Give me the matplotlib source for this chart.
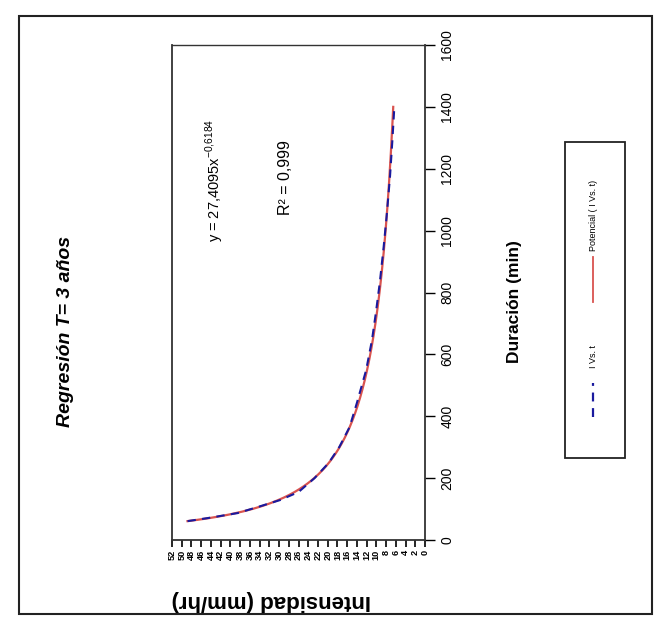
import numpy as np
import matplotlib.pyplot as plt
from matplotlib.patches import Rectangle
from matplotlib.lines import Line2D

duracion = np.array([61, 71, 87, 107, 129, 155, 200, 249, 301, 365, 443, 549,
                     646, 734, 831, 947, 1044, 1173, 1293, 1400])
intensidad = np.array([48.8, 44.6, 38.5, 34.3, 29.8, 26.0, 22.7, 19.8, 17.6, 15.5,
                       14.0, 12.1, 10.9, 10.1, 9.3, 8.5, 7.9, 7.2, 6.7, 6.3])

x_ticks = np.arange(52, -1, -2)        # intensity ticks (bottom, inverted)
y_ticks = np.arange(0, 1601, 200)      # duration ticks (right side)

titulo = "Regresión T= 3 años"
ecuacion = r"y = 27,4095x$^{\mathregular{-0{,}6184}}$"
r2 = "R² = 0,999"

W, H = 669, 631
def px(x, y):
    # pixel coords (from top-left) -> figure fraction
    return x / W, 1 - y / H

plt.rcParams['font.family'] = ['Liberation Sans', 'DejaVu Sans']

fig = plt.figure(figsize=(W / 100, H / 100), dpi=100)

# outer frame
fig.patches.append(Rectangle(px(19, 614), 633 / W, 598 / H, transform=fig.transFigure,
                             fill=False, edgecolor='#222222', lw=1.5))

# plot area: horizontal = intensity (inverted), vertical = duration
ax = fig.add_axes([172 / W, 1 - 540 / H, (425 - 172) / W, (540 - 45) / H])

# power trend line fitted on the data (Potencial)
b, loga = np.polyfit(np.log(duracion), np.log(intensidad), 1)
d_fit = np.linspace(duracion.min(), duracion.max(), 300)
ax.plot(np.exp(loga) * d_fit ** b, d_fit, color='#d9534f', lw=1.6)
ax.plot(intensidad, duracion, color='#1a1a9e', lw=1.5, ls=(0, (4, 3)))

ax.set_xlim(52, 0)
ax.set_ylim(0, 1600)
ax.set_xticks(x_ticks)
ax.set_xticklabels([str(v) for v in x_ticks], rotation=90, fontsize=6.6, fontweight='bold')
ax.yaxis.tick_right()
ax.set_yticks(y_ticks)
ax.set_yticklabels([str(v) for v in y_ticks], rotation=90, va='center', fontsize=10)
ax.tick_params(axis='x', length=5, width=1.2, pad=2)
ax.tick_params(axis='y', length=7, width=1.0, pad=4)
for s in ax.spines.values():
    s.set_linewidth(1.3)
    s.set_color('#333333')
ax.spines['top'].set_linewidth(1.0)

# texts (everything rotated as in the reference)
fig.text(*px(66, 331), titulo, rotation=90, ha='center', va='center',
         fontsize=14, fontweight='bold', fontstyle='italic')
fig.text(*px(514, 302), "Duración (min)", rotation=90, ha='center', va='center',
         fontsize=12.5, fontweight='bold')
fig.text(*px(271, 601), "Intensidad (mm/hr)", rotation=180, ha='center', va='center',
         fontsize=16, fontweight='bold')
fig.text(*px(215, 180), ecuacion, rotation=90, ha='center', va='center', fontsize=10.5)
fig.text(*px(285, 178), r2, rotation=90, ha='center', va='center', fontsize=11.5)

# legend drawn by hand (rotated)
fig.patches.append(Rectangle(px(565, 458), 60 / W, 316 / H, transform=fig.transFigure,
                             fill=False, edgecolor='#222222', lw=1.3))
fig.lines.append(Line2D([593 / W] * 2, [1 - 417 / H, 1 - 383 / H], transform=fig.transFigure,
                        color='#1a1a9e', lw=1.6, ls=(0, (4, 3))))
fig.text(*px(593, 357), "I Vs. t", rotation=90, ha='center', va='center', fontsize=6.5)
fig.lines.append(Line2D([593 / W] * 2, [1 - 302 / H, 1 - 257 / H], transform=fig.transFigure,
                        color='#d9534f', lw=1.3))
fig.text(*px(593, 215), "Potencial ( I Vs. t)", rotation=90, ha='center', va='center', fontsize=6.5)

fig.savefig('out.png', dpi=100)
